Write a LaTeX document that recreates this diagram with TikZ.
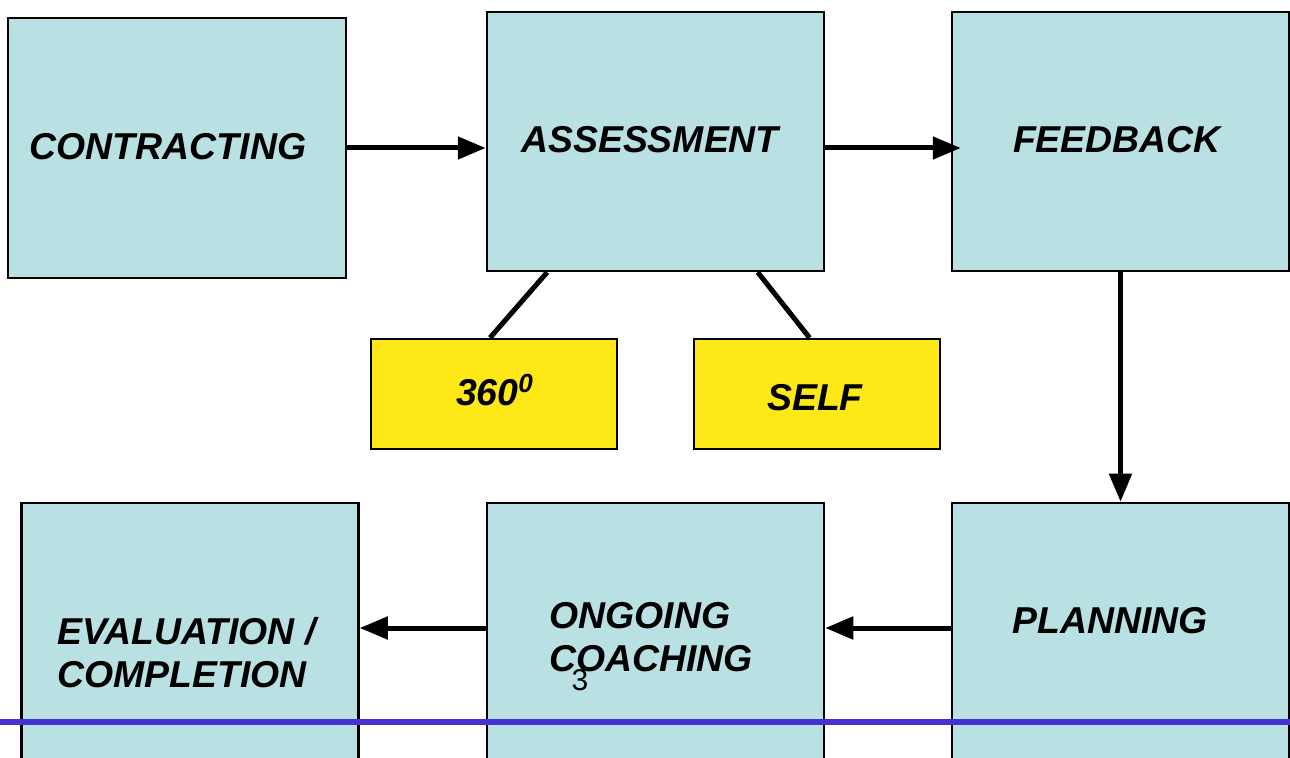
\documentclass[tikz,border=0pt]{standalone}
\usepackage{fontspec}
\setmainfont{Liberation Sans}
\usetikzlibrary{arrows.meta, calc, positioning}
\definecolor{stageblue}{RGB}{185, 224, 227}
\definecolor{toolyellow}{RGB}{255, 232, 23}
\definecolor{rulerblue}{RGB}{70, 50, 210}

\begin{document}
\begin{tikzpicture}[x=0.5pt, y=-0.5pt,
		stagebox/.style={draw, fill=stageblue, line width=1.25pt, inner sep=0pt,
			minimum width=168.5pt, minimum height=129.5pt},
		toolbox/.style={draw, fill=toolyellow, line width=1.25pt, inner sep=0pt,
			minimum width=123pt, minimum height=55pt},
		lbl/.style={font=\fontsize{18.7}{21.5}\selectfont\bfseries\itshape, inner sep=0pt, align=left},
		arr/.style={-{Triangle[length=14pt, width=11pt]}, line width=2.5pt},
		link/.style={line width=2.5pt}
		]
		\clip (0,0) rectangle (1290,758);
		\fill[white] (0,0) rectangle (1290,758);
		% top row
		\node[stagebox, minimum width=169pt, minimum height=130pt] (contract) at (177,148) {};
		\node[stagebox] (assess) at (655.5,141.5) {};
		\node[stagebox] (feedback) at (1120.5,141.5) {};
		% assessment tools
		\node[toolbox] (deg) at (494,394) {};
		\node[toolbox] (self) at (817,394) {};
		% bottom row
		\node[stagebox, minimum height=138pt] (eval) at (190,641) {};
		\node[stagebox, minimum height=138pt] (ongoing) at (655.5,641) {};
		\node[stagebox, minimum height=138pt] (planning) at (1120.5,641) {};
		\coordinate (lowrow) at (0,628);
		% labels
		\node[lbl] (contractlbl) at (168,147) {CONTRACTING};
		\node[lbl] (assesslbl) at (650,140) {ASSESSMENT};
		\node[lbl] (feedbacklbl) at (1117,140) {FEEDBACK};
		\node[lbl] (deglbl) at (495,390) {360\textsuperscript{0}};
		\node[lbl] (selflbl) at (815,398) {SELF};
		\node[lbl, anchor=west] (evallbl) at (57,653) {EVALUATION /\\COMPLETION};
		\node[lbl, anchor=west] (ongoinglbl) at (549,637) {ONGOING\\COACHING};
		\node[lbl] (planninglbl) at (1110,621) {PLANNING};
		\node[font=\fontsize{15}{18}\selectfont, inner sep=0pt] (pagenum) at (580,680) {3};
		% connectors
		\draw[arr] (contract.east |- contract) -- (assess.west |- contract);
		\draw[arr, shorten >=-5pt] (assess.east |- contract) -- (feedback.west |- contract);
		\draw[arr] (feedback.south) -- (planning.north);
		\draw[arr] (planning.west |- lowrow) -- (ongoing.east |- lowrow);
		\draw[arr] (ongoing.west |- lowrow) -- (eval.east |- lowrow);
		\draw[link] ($(assess.south west)!0.181!(assess.south east)$) -- ($(deg.north west)!0.484!(deg.north east)$);
		\draw[link] ($(assess.south west)!0.801!(assess.south east)$) -- ($(self.north west)!0.47!(self.north east)$);
		% slide rule
		\draw[rulerblue, line width=3pt] (0,722) -- (1290,722);
\end{tikzpicture}
\end{document}
